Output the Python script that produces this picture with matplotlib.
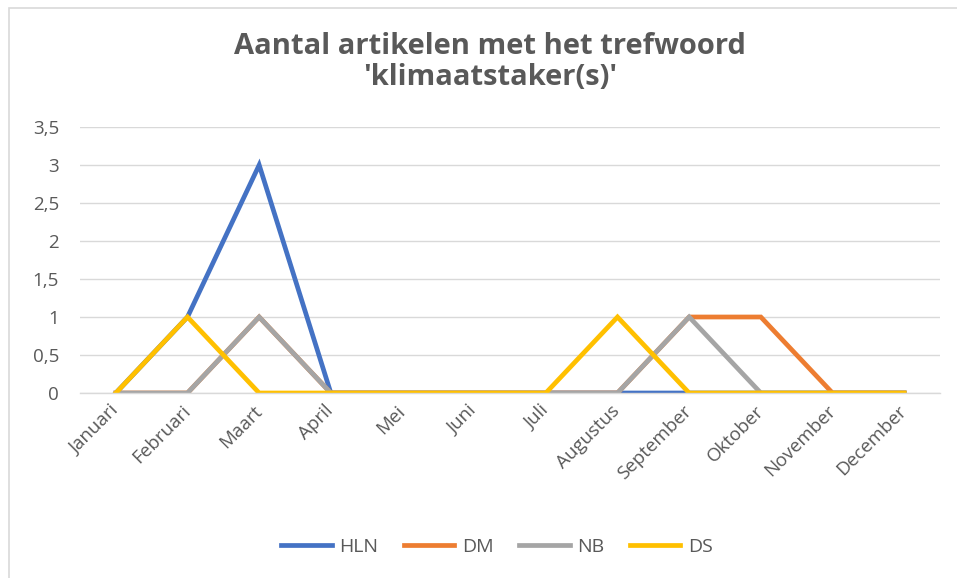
import matplotlib.pyplot as plt
from matplotlib.patches import Rectangle
from matplotlib.ticker import FuncFormatter

plt.rcParams['font.family'] = ['Open Sans', 'DejaVu Sans']

# Data
months = ['Januari', 'Februari', 'Maart', 'April', 'Mei', 'Juni', 'Juli',
          'Augustus', 'September', 'Oktober', 'November', 'December']
hln = [0, 1, 3, 0, 0, 0, 0, 0, 0, 0, 0, 0]
dm = [0, 0, 1, 0, 0, 0, 0, 0, 1, 1, 0, 0]
nb = [0, 0, 1, 0, 0, 0, 0, 0, 1, 0, 0, 0]
ds = [0, 1, 0, 0, 0, 0, 0, 1, 0, 0, 0, 0]

series = [('HLN', hln, '#4472C4'), ('DM', dm, '#ED7D31'),
          ('NB', nb, '#A5A5A5'), ('DS', ds, '#FFC000')]

W, H = 957, 578
fig = plt.figure(figsize=(W / 100, H / 100), dpi=100)

# chart border (cut off on right and bottom)
fig.patches.append(Rectangle((8.5 / W, -0.1), 1.2, 1 - 8.5 / H + 0.1,
                             transform=fig.transFigure, fill=False,
                             edgecolor='#D9D9D9', lw=1.2))

ax = fig.add_axes([80 / W, 1 - 393 / H, 860 / W, 266 / H])

x = range(len(months))
for name, vals, col in series:
    ax.plot(x, vals, color=col, lw=3.4, label=name, solid_joinstyle='miter')

ax.set_xlim(-0.5, len(months) - 0.5)
ax.set_ylim(0, 3.5)
ax.set_yticks([0, 0.5, 1, 1.5, 2, 2.5, 3, 3.5])
ax.yaxis.set_major_formatter(FuncFormatter(lambda v, p: f'{v:g}'.replace('.', ',')))
ax.set_xticks(list(x))
ax.set_xticklabels(months, rotation=45, ha='right', va='center',
                   rotation_mode='anchor')
ax.tick_params(axis='x', length=0, pad=11, labelsize=13.5, labelcolor='#595959')
ax.tick_params(axis='y', length=0, pad=15, labelsize=13.5, labelcolor='#595959')
ax.grid(axis='y', color='#D9D9D9', lw=1)
ax.set_axisbelow(True)
for s in ['top', 'right', 'left']:
    ax.spines[s].set_visible(False)
ax.spines['bottom'].set_color('#D9D9D9')
ax.spines['bottom'].set_linewidth(1)

fig.text(490 / W, 1 - 62 / H, "Aantal artikelen met het trefwoord\n'klimaatstaker(s)'",
         ha='center', va='center', fontsize=21, fontweight='bold',
         color='#595959', linespacing=1.1)

fig.legend(loc='center', bbox_to_anchor=(497 / W, 1 - 547 / H), ncol=4,
           frameon=False, fontsize=14, labelcolor='#595959', handlelength=2.6,
           columnspacing=1.3, handletextpad=0.4)

fig.savefig('out.png', dpi=100)
